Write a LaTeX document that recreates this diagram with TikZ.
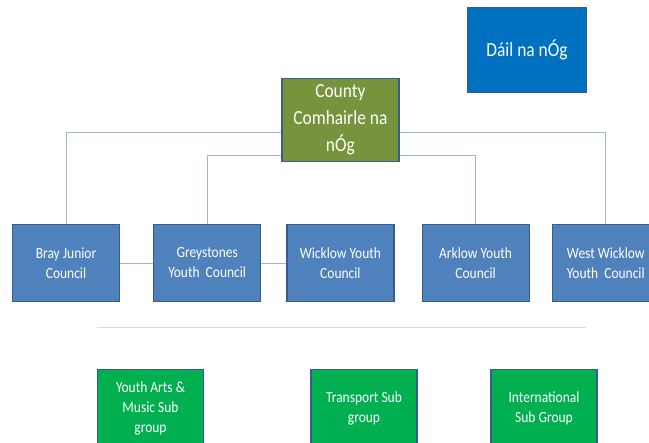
\documentclass[tikz,border=0pt]{standalone}
\usepackage{fontspec}
\setmainfont{Carlito}
\newfontfamily\slidefont[FakeStretch=0.87]{Carlito}
\usepackage{tikz}
\usetikzlibrary{positioning,backgrounds}
\usepackage{xcolor}
\definecolor{councilblue}{HTML}{4F81BD}
\definecolor{boxline}{HTML}{385D8A}
\definecolor{dailblue}{HTML}{0070C0}
\definecolor{countygreen}{HTML}{77933C}
\definecolor{subgreen}{HTML}{00B050}
\definecolor{linkblue}{HTML}{9DB7DA}
\definecolor{sepgrey}{HTML}{D5DCE6}

\begin{document}
\begin{tikzpicture}[
				x=1pt,y=1pt,
				node distance=25pt,
				council/.style={draw=boxline,line width=1.2pt,rectangle,minimum width=107pt,minimum height=77pt,inner sep=2pt,fill=councilblue,text=white,align=center,font=\slidefont\fontsize{15.5}{20}\selectfont},
				county/.style={council,minimum width=117pt,minimum height=83pt,fill=countygreen,font=\slidefont\fontsize{20}{27}\selectfont},
				dail/.style={council,minimum width=119pt,minimum height=85pt,fill=dailblue,font=\slidefont\fontsize{20}{27}\selectfont},
				subgroup/.style={council,minimum width=106pt,fill=subgreen},
				link/.style={draw=linkblue,line width=0.8pt}
				]
				
				\useasboundingbox (0,0) rectangle (649,443);
				
				% Youth councils
				\node[council] (bray) at (66,180) {Bray Junior\\Council};
				\node[council,right=33pt of bray] (greystones) {Greystones\\Youth\ \ Council};
				\node[council,right=of greystones] (wicklow) {Wicklow Youth\\Council};
				\node[council,right=27pt of wicklow] (arklow) {Arklow Youth\\Council};
				\node[council,right=22pt of arklow] (westwicklow) {West Wicklow\\Youth\ \ Council};
				
				% Comhairle
				\node[county,above=62pt of wicklow] (county) {County\\Comhairle na\\nÓg};
				\node[dail] (dail) at (527,393) {Dáil na nÓg};
				
				% Sub groups
				\node[subgroup] (arts) at (150.5,35) {Youth Arts \&\\Music Sub\\group};
				\node[subgroup] (transport) at (364,35) {Transport Sub\\group};
				\node[subgroup] (international) at (544,35) {International\\Sub Group};
				
				% Connections
				\begin{scope}[on background layer]
					\draw[link] (bray.north) -- ++(0,91) -| (westwicklow.north);
					\draw[link] (greystones.north) -- ++(0,68.5) -| (arklow.north);
					\draw[link] (bray.east) -- (greystones.west);
					\draw[link] (greystones.east) -- (wicklow.west);
				\end{scope}
				
				% Separator
				\draw[sepgrey,line width=0.8pt] (97,116) -- (586,116);
				
			\end{tikzpicture}
\end{document}
